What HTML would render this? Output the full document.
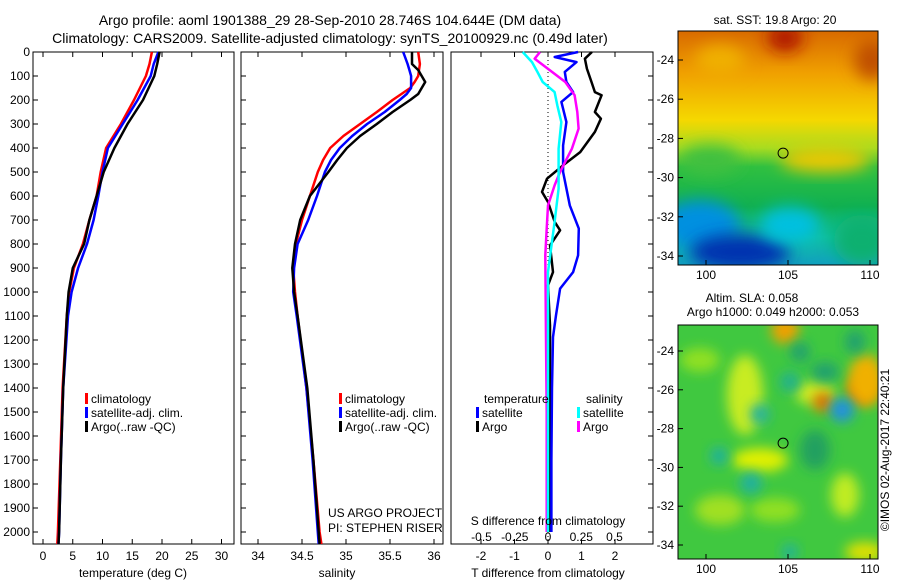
<!DOCTYPE html>
<html><head><meta charset="utf-8">
<style>
html,body{margin:0;padding:0;background:#fff;}
svg{display:block;font-family:"Liberation Sans",sans-serif;}
text{font-size:12px;fill:#000;}
</style></head>
<body>
<svg id="chart" width="900" height="580" viewBox="0 0 900 580" xmlns="http://www.w3.org/2000/svg">
<defs>
<filter id="blur8" x="-50%" y="-50%" width="200%" height="200%"><feGaussianBlur stdDeviation="8"/></filter>
<filter id="blur5" x="-50%" y="-50%" width="200%" height="200%"><feGaussianBlur stdDeviation="6"/></filter>
<linearGradient id="sstGrad" x1="0" y1="0" x2="0" y2="1">
<stop offset="0" stop-color="#d86a00"/>
<stop offset="0.18" stop-color="#f0a000"/>
<stop offset="0.38" stop-color="#f5d800"/>
<stop offset="0.5" stop-color="#a8dc20"/>
<stop offset="0.58" stop-color="#30c040"/>
<stop offset="0.75" stop-color="#10b050"/>
<stop offset="0.88" stop-color="#10c0a0"/>
<stop offset="1" stop-color="#10a0c0"/>
</linearGradient>
<clipPath id="clipTop"><rect x="678" y="31" width="200" height="234"/></clipPath>
<clipPath id="clipBot"><rect x="678" y="325" width="200" height="234"/></clipPath>
</defs>
<text x="330" y="25" text-anchor="middle" style="font-size:14px">Argo profile: aoml 1901388_29 28-Sep-2010 28.746S 104.644E (DM data)</text>
<text x="330" y="43" text-anchor="middle" style="font-size:14px">Climatology: CARS2009. Satellite-adjusted climatology: synTS_20100929.nc (0.49d later)</text>
<g id="plots"></g>
<g id="maps"></g>
</svg>
<script>
// ---- data ----
const depthT = [0,50,100,200,300,400,500,600,700,800,900,1000,1100,1400,1700,2000,2050];
const tempClim = [18.3,17.9,17.3,15.3,13.1,10.6,9.7,9.0,7.8,6.7,5.2,4.4,4.0,3.3,2.9,2.5,2.4];
const tempSat  = [19.4,18.6,18.1,15.9,13.4,10.9,10.0,9.3,8.5,7.4,5.9,4.8,4.2,3.4,3.0,2.7,2.6];
const tempArgo = [19.6,19.2,18.7,16.8,14.2,12.0,10.2,9.0,7.8,6.9,5.0,4.3,4.0,3.4,3.0,2.7,2.6];
const depthS = [0,50,75,100,125,150,175,200,250,300,350,400,450,500,600,700,800,900,1000,1100,1400,1700,2000,2050];
const salClim = [35.82,35.84,35.83,35.82,35.78,35.73,35.63,35.53,35.35,35.16,34.97,34.82,34.74,34.68,34.59,34.50,34.43,34.40,34.42,34.45,34.55,34.63,34.70,34.72];
const salSat  = [35.65,35.70,35.72,35.74,35.74,35.74,35.69,35.61,35.44,35.24,35.07,34.93,34.83,34.76,34.67,34.57,34.45,34.41,34.40,34.44,34.55,34.62,34.68,34.69];
const salArgo = [35.75,35.75,35.82,35.86,35.90,35.86,35.82,35.73,35.53,35.35,35.16,35.01,34.90,34.80,34.59,34.48,34.42,34.39,34.41,34.45,34.56,34.63,34.69,34.70];
const depthTd = [0,28,69,125,167,180,250,278,333,417,472,528,583,625,708,743,806,917,972,1139,1400,1700,2000];
const dTArgo  = [1.31,1.1,1.16,1.3,1.4,1.6,1.4,1.58,1.4,0.96,0.45,-0.03,-0.18,0.0,0.2,0.36,0.06,0.15,0.0,0.06,0.06,0.05,0.05];
const depthTs = [0,21,42,83,125,167,208,292,389,500,639,736,847,917,986,1097,1188,1400,1700,2000];
const dTSat   = [0.9,0.2,0.85,0.5,0.55,0.75,0.4,0.55,0.45,0.45,0.65,0.92,0.9,0.75,0.36,0.24,0.15,0.12,0.1,0.1];
const depthSd = [0,28,83,125,180,250,319,403,500,556,639,736,847,1194,1500,2000];
const dSArgo  = [-0.06,-0.1,0.03,0.13,0.2,0.22,0.23,0.18,0.09,0.05,0.0,-0.01,-0.02,-0.015,-0.01,-0.01];
const depthSs = [0,42,83,125,167,222,292,403,569,708,917,1194,1500,2000];
const dSSat   = [-0.19,-0.12,-0.08,-0.04,0.05,0.07,0.1,0.08,0.08,0.05,0.0,0.0,0.0,0.0];
const depthTicks = [0,100,200,300,400,500,600,700,800,900,1000,1100,1200,1300,1400,1500,1600,1700,1800,1900,2000];
const tempTicks = [0,5,10,15,20,25,30];
const salTicks = [34,34.5,35,35.5,36];
const salTickLabels = ["34","34.5","35","35.5","36"];
const tdTicks = [-2,-1,0,1,2];
const sdTicks = [-0.5,-0.25,0,0.25,0.5];
const sdTickLabels = ["-0.5","-0.25","0","0.25","0.5"];
const latTicks = [-24,-26,-28,-30,-32,-34];
const lonTicks = [100,105,110];

const NS='http://www.w3.org/2000/svg';
function el(tag, attrs, parent, txt){
  const e=document.createElementNS(NS,tag);
  for(const k in attrs) e.setAttribute(k,attrs[k]);
  if(txt!==undefined) e.textContent=txt;
  parent.appendChild(e); return e;
}
const plots=document.getElementById('plots');
const Y=d=>52+0.24*d;
const TOP=52, BOT=544;
const xT=v=>43+5.95*v;
const xS=v=>258+88*(v-34);
const xTd=v=>548+33.5*v;
const xSd=v=>548+133*v;

function frame(name,x0,x1){
  const r=el('rect',{x:x0,y:TOP,width:x1-x0,height:BOT-TOP,fill:'none',stroke:'#000','stroke-width':1},plots);
  
  
}
function yticks(x0,right,labels){
  depthTicks.forEach(d=>{
    const t=el('line',{x1:x0,x2:right?x0-5:x0+5,y1:Y(d),y2:Y(d),stroke:'#000'},plots);
    
    
    if(labels){
      const l=el('text',{x:x0-3,y:Y(d)+4,'text-anchor':'end'},plots,String(d));
      
      
    }
  });
}
function xticks(vals,labs,fx,ly,both){
  vals.forEach((v,i)=>{
    const t=el('line',{x1:fx(v),x2:fx(v),y1:BOT,y2:BOT-5,stroke:'#000'},plots);
    
    
    if(both){
      const t2=el('line',{x1:fx(v),x2:fx(v),y1:TOP,y2:TOP+5,stroke:'#000'},plots);
      
      
    }
    if(ly){
      const l=el('text',{x:fx(v),y:ly,'text-anchor':'middle'},plots,labs[i]);
      
      
    }
  });
}
function series(name,depths,vals,fx,color){
  const pts=depths.map((d,i)=>fx(vals[i]).toFixed(1)+','+Y(d).toFixed(1)).join(' ');
  const p=el('polyline',{points:pts,fill:'none',stroke:color,'stroke-width':2.5,'stroke-linejoin':'round'},plots);
  
  
}
function legend(x,y,color,label){
  const r=el('rect',{x:x,y:y-10,width:3,height:11,fill:color},plots);
  
  
  const t=el('text',{x:x+6,y:y},plots,label);
  
  
}
function label(name,x,y,txt,anchor){
  const t=el('text',{x:x,y:y,'text-anchor':anchor||'middle'},plots,txt);
  
  
}

// Panel 1: temperature
frame('temperature-panel',33,234);
yticks(33,false,true);
xticks(tempTicks,tempTicks.map(String),xT,560,true);
series('temp-climatology-line',depthT,tempClim,xT,'#f00');
series('temp-satellite-line',depthT,tempSat,xT,'#00f');
series('temp-argo-line',depthT,tempArgo,xT,'#000');
legend(85,403,'#f00','climatology');
legend(85,417,'#00f','satellite-adj. clim.');
legend(85,431,'#000','Argo(..raw -QC)');
label('x-axis-title-temperature',133,577,'temperature (deg C)');

// Panel 2: salinity
frame('salinity-panel',241,443);
yticks(241,false,false);
xticks(salTicks,salTickLabels,xS,560,true);
series('sal-climatology-line',depthS,salClim,xS,'#f00');
series('sal-satellite-line',depthS,salSat,xS,'#00f');
series('sal-argo-line',depthS,salArgo,xS,'#000');
legend(339,403,'#f00','climatology');
legend(339,417,'#00f','satellite-adj. clim.');
legend(339,431,'#000','Argo(..raw -QC)');
label('credit-project',328,517,'US ARGO PROJECT','start');
label('credit-pi',328,532,'PI: STEPHEN RISER','start');
label('x-axis-title-salinity',337,577,'salinity');

// Panel 3: differences
frame('difference-panel',451,653);
yticks(653,true,false);
xticks(tdTicks,tdTicks.map(String),xTd,560,true);
const zl=el('line',{x1:548,x2:548,y1:TOP,y2:BOT,stroke:'#000','stroke-dasharray':'1,3'},plots);


series('dT-argo-line',depthTd,dTArgo,xTd,'#000');
series('dT-satellite-line',depthTs,dTSat,xTd,'#00f');
series('dS-argo-line',depthSd,dSArgo,xSd,'#f0f');
series('dS-satellite-line',depthSs,dSSat,xSd,'#0ff');
label('legend-temperature-header',484,403,'temperature','start');
label('legend-salinity-header',586,403,'salinity','start');
legend(476,417,'#00f','satellite');
legend(476,431,'#000','Argo');
legend(577,417,'#0ff','satellite');
legend(577,431,'#f0f','Argo');
label('s-axis-title',548,525,'S difference from climatology');
sdTicks.forEach((v,i)=>label('s-tick-label',xSd(v),541,sdTickLabels[i]));
label('x-axis-title-tdiff',548,577,'T difference from climatology');

// ---- Maps ----
const maps=document.getElementById('maps');
const lonX=v=>706+16.4*(v-100);
const latYt=v=>60+19.6*(-24-v);
const latYb=v=>351+19.4*(-24-v);
function blob(g,cx,cy,rx,ry,c,f){
  const e=el('ellipse',{cx:cx,cy:cy,rx:rx,ry:ry,fill:c,filter:'url(#'+(f||'blur8')+')'},g);
  
  
}
// top SST map
const gt=el('g',{'clip-path':'url(#clipTop)'},maps);


el('rect',{x:678,y:31,width:200,height:234,fill:'url(#sstGrad)'},gt);
blob(gt,785,38,18,14,'#b01800');
blob(gt,872,60,18,20,'#c05000');
blob(gt,720,60,25,15,'#f0b000');
blob(gt,710,160,30,15,'#40c040');
blob(gt,825,160,45,12,'#f0c800');
blob(gt,700,225,40,25,'#0090e0');
blob(gt,740,252,50,18,'#0030b0');
blob(gt,790,225,30,18,'#00c0e0');
blob(gt,862,240,28,25,'#10b070');
const mtb=el('rect',{x:678,y:31,width:200,height:234,fill:'none',stroke:'#000'},maps);


// bottom SLA map
const gb=el('g',{'clip-path':'url(#clipBot)'},maps);


el('rect',{x:678,y:325,width:200,height:234,fill:'#40c840'},gb);
[[700,360,20,12,'#90e020'],[745,395,18,40,'#c8ec20'],[785,330,14,14,'#f0a000'],[815,393,20,12,'#d0ec20'],
 [823,402,10,10,'#e07000'],[862,390,14,14,'#e07000'],[866,380,18,26,'#f0b000'],[720,510,25,15,'#a0e020'],
 [775,510,25,12,'#90e020'],[865,552,20,10,'#e0e000'],[760,460,28,12,'#e0f000'],[845,495,14,22,'#c0ec20']].forEach(b=>blob(gb,b[0],b[1],b[2],b[3],b[4],'blur5'));
[[842,410,12,12,'#2090e0'],[760,414,10,10,'#20b0a0'],[719,456,9,9,'#20b0a0'],[751,483,11,11,'#20b0a0'],
 [815,450,15,20,'#20a060'],[800,352,10,10,'#20a070'],[855,342,10,12,'#20a070'],[825,372,14,10,'#20a070'],
 [790,382,10,10,'#20b090'],[790,552,8,8,'#20b0a0']].forEach(b=>blob(gb,b[0],b[1],b[2],b[3],b[4],'blur5'));
const mbb=el('rect',{x:678,y:325,width:200,height:234,fill:'none',stroke:'#000'},maps);


// map ticks & labels
function mapAxes(latY,top,bot,pref){
  latTicks.forEach(v=>{
    const t=el('line',{x1:678,x2:683,y1:latY(v),y2:latY(v),stroke:'#000'},maps);
    
    
    const l=el('text',{x:674,y:latY(v)+4,'text-anchor':'end'},maps,String(v));
    
    
  });
  lonTicks.forEach(v=>{
    const t=el('line',{x1:lonX(v),x2:lonX(v),y1:bot,y2:bot-5,stroke:'#000'},maps);
    
    
    const l=el('text',{x:lonX(v),y:bot+14,'text-anchor':'middle'},maps,String(v));
    
    
  });
  const c=el('circle',{cx:lonX(104.7),cy:latY(-28.75),r:5,fill:'none',stroke:'#000'},maps);
  
  
}
mapAxes(latYt,31,265,'sst');
mapAxes(latYb,325,559,'sla');
function mtext(name,x,y,s,extra){
  const t=el('text',Object.assign({x:x,y:y,'text-anchor':'middle'},extra||{}),maps,s);
  
  
}
mtext('sst-map-title',775,24,'sat. SST: 19.8 Argo: 20');
mtext('sla-map-title-1',752,302,'Altim. SLA: 0.058');
mtext('sla-map-title-2',773,316,'Argo h1000: 0.049 h2000: 0.053');
mtext('copyright-stamp',0,0,'\u00a9IMOS 02-Aug-2017 22:40:21',{transform:'translate(889,450) rotate(-90)'});
</script>
</body></html>
